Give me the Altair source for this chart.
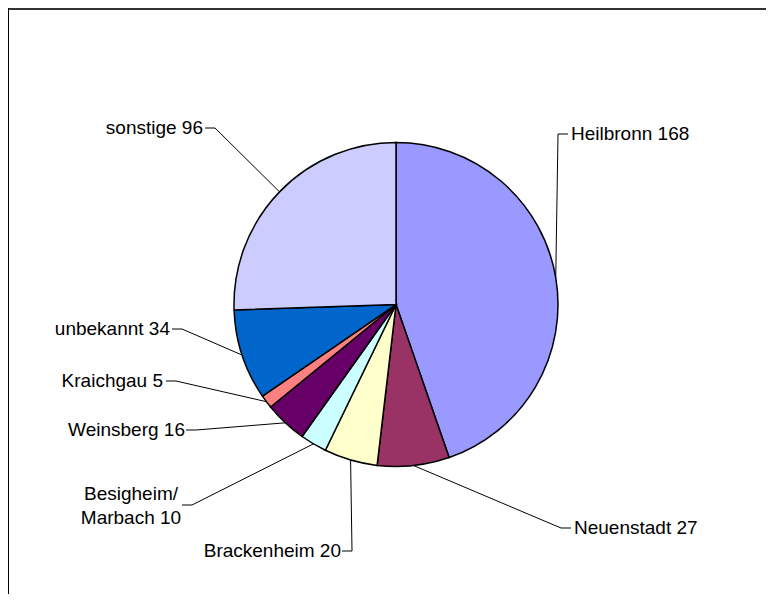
import altair as alt
import numpy as np
import pandas as pd

# ---- data ----
names = ["Heilbronn", "Neuenstadt", "Brackenheim", "Besigheim/Marbach",
         "Weinsberg", "Kraichgau", "unbekannt", "sonstige"]
values = [168, 27, 20, 10, 16, 5, 34, 96]
label_texts = ["Heilbronn 168", "Neuenstadt 27", "Brackenheim 20", "Besigheim/\nMarbach 10",
               "Weinsberg 16", "Kraichgau 5", "unbekannt 34", "sonstige 96"]
colors = ["#9999FF", "#993366", "#FFFFCC", "#CCFFFF",
          "#660066", "#FF8080", "#0066CC", "#CCCCFF"]

# ---- layout (label placement, pixels in plot area) ----
W, H = 758, 586
CX, CY, R = 388, 296.5, 162
elbow_x = [550, 553, 344, 184, 188, 168, 174, 207]
elbow_y = [126, 520, 543, 497, 422, 373, 321, 120]
side = [1, 1, -1, -1, -1, -1, -1, -1]   # +1 label to the right of elbow, -1 to the left
align = ["left", "left", "right", "center", "right", "right", "right", "right"]
text_x = [563, 566, 333, 123, 177, 155, 162, 195]
text_y = [126, 520, 543, 486, 422, 373, 321, 120]
TICK = 10

df = pd.DataFrame({"name": names, "value": values, "idx": range(len(names)),
                   "label": label_texts, "align": align,
                   "tx": text_x, "ty": text_y})

# leader lines: slice mid-point on the rim -> elbow -> short tick
tot = float(sum(values))
cum = np.cumsum([0] + values[:-1])
rows = []
for i, n in enumerate(names):
    mid = (cum[i] + values[i] / 2) / tot * 2 * np.pi
    ex, ey = CX + R * np.sin(mid), CY - R * np.cos(mid)
    pts = [(ex, ey), (elbow_x[i], elbow_y[i]), (elbow_x[i] + side[i] * TICK, elbow_y[i])]
    for k, (px, py) in enumerate(pts):
        rows.append({"name": n, "k": k, "px": px, "py": py})
lead = pd.DataFrame(rows)

pie = alt.Chart(df).mark_arc(outerRadius=R, stroke="black", strokeWidth=1.5).encode(
    theta=alt.Theta("value:Q", stack=True),
    color=alt.Color("name:N", scale=alt.Scale(domain=names, range=colors), legend=None),
    order=alt.Order("idx:Q"),
    x=alt.value(CX), y=alt.value(CY),
)

lines = alt.Chart(lead).mark_line(color="black", strokeWidth=1).encode(
    x=alt.X("px:Q", scale=None), y=alt.Y("py:Q", scale=None),
    detail="name:N", order="k:Q",
)

def text_layer(a):
    return alt.Chart(df).transform_filter(alt.datum.align == a).mark_text(
        align=a, baseline="middle", font="Liberation Sans", fontSize=19,
        color="black", lineBreak="\n", lineHeight=24,
    ).encode(x=alt.X("tx:Q", scale=None), y=alt.Y("ty:Q", scale=None), text="label:N")

frame_top = alt.Chart(pd.DataFrame({"a": [0]})).mark_rule(color="#333333", strokeWidth=2).encode(
    x=alt.value(0), x2=alt.value(W), y=alt.value(1))
frame_left = alt.Chart(pd.DataFrame({"a": [0]})).mark_rule(color="black", strokeWidth=1).encode(
    x=alt.value(0.5), y=alt.value(0), y2=alt.value(H))

chart = alt.layer(pie, lines, text_layer("left"), text_layer("right"), text_layer("center"),
                  frame_top, frame_left).properties(
    width=W, height=H, padding=0, autosize=alt.AutoSizeParams(type="none"),
).configure_view(stroke=None)

chart.save("out.html", embed_options={"renderer": "svg", "actions": False})
